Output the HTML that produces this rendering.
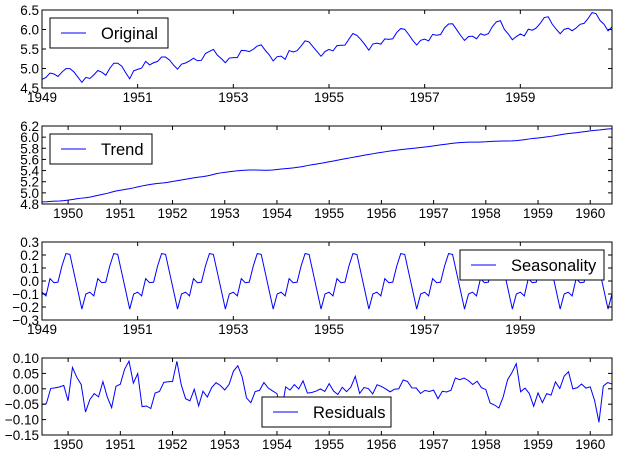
<!DOCTYPE html>
<html><head><meta charset="utf-8"><style>
html,body{margin:0;padding:0;background:#fff;}
svg{display:block;font-family:"Liberation Sans","DejaVu Sans",sans-serif;}
</style></head><body>
<svg id="s" width="617" height="453" viewBox="0 0 617 453" xmlns="http://www.w3.org/2000/svg"></svg>
<script>
var d=[112,118,132,129,121,135,148,148,136,119,104,118,115,126,141,135,125,149,170,170,158,133,114,140,145,150,178,163,172,178,199,199,184,162,146,166,171,180,193,181,183,218,230,242,209,191,172,194,196,196,236,235,229,243,264,272,237,211,180,201,204,188,235,227,234,264,302,293,259,229,203,229,242,233,267,269,270,315,364,347,312,274,237,278,284,277,317,313,318,374,413,405,355,306,271,306,315,301,356,348,355,422,465,467,404,347,305,336,340,318,362,348,363,435,491,505,404,359,310,337,360,342,406,396,420,472,548,559,463,407,362,405,417,391,419,461,472,535,622,606,508,461,390,432];
var y=d.map(Math.log),n=y.length,tr=[],se=[],re=[];
for(var i=0;i<n;i++){if(i<6||i>n-7){tr.push(null);continue;}var s=0.5*y[i-6]+0.5*y[i+6];for(var k=-5;k<=5;k++)s+=y[i+k];tr.push(s/12);}
var pm=[];for(var m=0;m<12;m++){var s=0,c=0;for(var i=m;i<n;i+=12)if(tr[i]!==null){s+=y[i]-tr[i];c++;}pm.push(s/c);}
var mm=pm.reduce(function(a,b){return a+b})/12;pm=pm.map(function(v){return v-mm});
for(var i=0;i<n;i++){se.push(pm[i%12]);re.push(tr[i]===null?null:y[i]-tr[i]-se[i]);}
var L=42,R=612,out='';
function T(x,yy,t,a){return '<text x="'+x+'" y="'+yy+'" font-size="13.5" text-anchor="'+(a||'middle')+'">'+t+'</text>';}
function panel(top,bot,data,x0,x1,ymin,ymax,yt,ydec,xt,leg){
 var X=function(t){return L+(t-x0)/(x1-x0)*(R-L)},Y=function(v){return bot-(v-ymin)/(ymax-ymin)*(bot-top)};
 var p='';for(var i=0;i<n;i++){if(data[i]===null)continue;var t=1949+i/12;p+=(p?'L':'M')+X(t).toFixed(2)+','+Y(data[i]).toFixed(2);}
 out+='<defs><clipPath id="c'+top+'"><rect x="'+L+'" y="'+top+'" width="'+(R-L)+'" height="'+(bot-top)+'"/></clipPath></defs>';
 out+='<path d="'+p+'" fill="none" stroke="#0000ff" stroke-width="1" clip-path="url(#c'+top+')"/>';
 yt.forEach(function(v){var yy=Y(v);out+='<line x1="'+L+'" y1="'+yy+'" x2="'+(L+4)+'" y2="'+yy+'" stroke="#000"/><line x1="'+R+'" y1="'+yy+'" x2="'+(R-4)+'" y2="'+yy+'" stroke="#000"/>';
  var s=v.toFixed(ydec).replace('-','\u2212');out+=T(L-3,yy+5,s,'end');});
 xt.forEach(function(v){var xx=X(v);out+='<line x1="'+xx+'" y1="'+bot+'" x2="'+xx+'" y2="'+(bot-4)+'" stroke="#000"/><line x1="'+xx+'" y1="'+top+'" x2="'+xx+'" y2="'+(top+4)+'" stroke="#000"/>';out+=T(xx,bot+14,v);});
 out+='<rect x="'+L+'" y="'+top+'" width="'+(R-L)+'" height="'+(bot-top)+'" fill="none" stroke="#000" stroke-width="1"/>';
 out+='<rect x="'+leg[0]+'" y="'+leg[1]+'" width="'+leg[2]+'" height="30" fill="#fff" stroke="#000"/><line x1="'+(leg[0]+11)+'" y1="'+(leg[1]+15)+'" x2="'+(leg[0]+36)+'" y2="'+(leg[1]+15)+'" stroke="#0000ff"/><text x="'+(leg[0]+51)+'" y="'+(leg[1]+21)+'" font-size="16.5">'+leg[3]+'</text>';
}
function rng(a,b,s){var r=[];for(var v=a;v<=b+1e-9;v+=s)r.push(Math.round(v*1000)/1000);return r;}
panel(10,88,y,1949,1960+11/12,4.5,6.5,rng(4.5,6.5,0.5),1,[1949,1951,1953,1955,1957,1959],[50,18,118,'Original']);
panel(126,204,tr,1949.5,1960+5/12,4.8,6.2,rng(4.8,6.2,0.2),1,rng(1950,1960,1),[50,134,102,'Trend']);
panel(242,320,se,1949,1960+11/12,-0.3,0.3,rng(-0.3,0.3,0.1),1,[1949,1951,1953,1955,1957,1959],[460,250,144,'Seasonality']);
panel(358,435,re,1949.5,1960+5/12,-0.15,0.10,rng(-0.15,0.10,0.05),2,rng(1950,1960,1),[262,397,129,'Residuals']);
document.getElementById('s').innerHTML=out;
</script>
</body></html>
